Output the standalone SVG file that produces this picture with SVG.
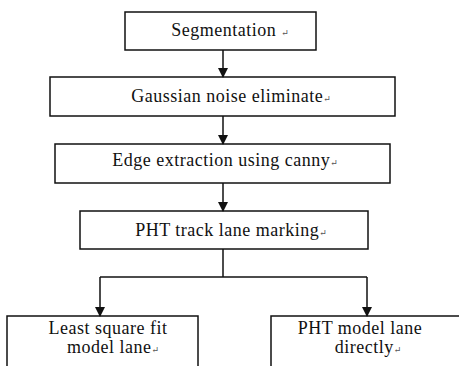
<svg xmlns="http://www.w3.org/2000/svg" width="459" height="366" viewBox="0 0 459 366">
  <style>
    .box { fill: #ffffff; stroke: #111111; stroke-width: 1.5; }
    .lbl { font-family: "Liberation Serif", "DejaVu Serif", "Times New Roman", serif; font-size: 18px; letter-spacing: 0.5px; fill: #111111; text-anchor: middle; }
    .ret { font-size: 9px; fill: #555555; letter-spacing: 0; }
    .wire { fill: none; stroke: #111111; stroke-width: 1.5; }
  </style>
  <defs>
    <marker id="arrow" markerWidth="10" markerHeight="10" refX="9" refY="5" orient="auto" markerUnits="userSpaceOnUse">
      <path d="M0,0 L10,5 L0,10 Z" fill="#111111"/>
    </marker>
  </defs>
  <rect width="459" height="366" fill="#ffffff"/>

  <g id="segmentation">
    <rect class="box" x="125" y="12" width="191" height="38"/>
    <text class="lbl" x="230" y="36">Segmentation <tspan class="ret">↵</tspan></text>
  </g>

  <g id="gaussian-noise">
    <rect class="box" x="50" y="77" width="345" height="39"/>
    <text class="lbl" x="231" y="102">Gaussian noise eliminate<tspan class="ret">↵</tspan></text>
  </g>

  <g id="edge-extraction">
    <rect class="box" x="55" y="144" width="335" height="39"/>
    <text class="lbl" x="225" y="166">Edge extraction using canny<tspan class="ret">↵</tspan></text>
  </g>

  <g id="pht-track">
    <rect class="box" x="80" y="211" width="288" height="38"/>
    <text class="lbl" x="231" y="236">PHT track lane marking<tspan class="ret">↵</tspan></text>
  </g>

  <g id="least-square">
    <rect class="box" x="7" y="316" width="191" height="70"/>
    <text class="lbl" x="108" y="334">Least square fit</text>
    <text class="lbl" x="113" y="353">model lane<tspan class="ret">↵</tspan></text>
  </g>

  <g id="pht-model">
    <rect class="box" x="271" y="316" width="200" height="70"/>
    <text class="lbl" x="360" y="334">PHT model lane</text>
    <text class="lbl" x="368" y="353">directly<tspan class="ret">↵</tspan></text>
  </g>

  <g id="connectors">
    <line class="wire" x1="223" y1="50" x2="223" y2="77" marker-end="url(#arrow)"/>
    <line class="wire" x1="223" y1="116" x2="223" y2="144" marker-end="url(#arrow)"/>
    <line class="wire" x1="223" y1="183" x2="223" y2="211" marker-end="url(#arrow)"/>
    <polyline class="wire" points="223,249 223,277"/>
    <polyline class="wire" points="100,277 367,277"/>
    <line class="wire" x1="100" y1="277" x2="100" y2="316" marker-end="url(#arrow)"/>
    <line class="wire" x1="367" y1="277" x2="367" y2="316" marker-end="url(#arrow)"/>
  </g>
</svg>
